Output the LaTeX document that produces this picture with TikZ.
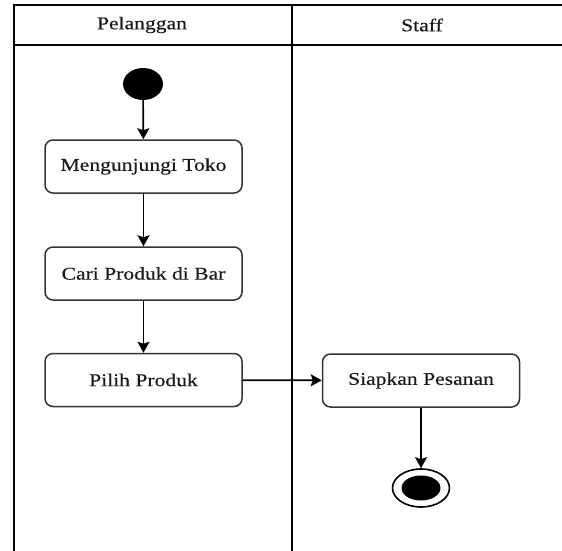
\documentclass[tikz,border=0pt]{standalone}
\usepackage{fontspec}
\setmainfont[FakeStretch=1.2,FakeBold=0.3]{Liberation Serif}
\usetikzlibrary{arrows.meta,shapes.geometric}
\begin{document}
\begin{tikzpicture}[x=1pt,y=-1pt,
  lane/.style={line width=2pt, draw=black},
  lanetitle/.style={font=\fontsize{18}{22}\selectfont, text=black!90, inner sep=0pt},
  action/.style={draw=black!80, line width=1.5pt, rounded corners=8pt,
    minimum width=197pt, minimum height=53pt, inner sep=0pt,
    font=\fontsize{18}{22}\selectfont, text=black!90},
  flow/.style={line width=1.7pt, draw=black, -{Stealth[length=11pt,width=12pt,inset=2pt]}},
  initial/.style={ellipse, fill=black, minimum width=40pt, minimum height=32pt, inner sep=0pt},
  finalring/.style={ellipse, draw=black, line width=1.6pt, minimum width=57pt, minimum height=38pt, inner sep=0pt},
  finaldot/.style={ellipse, fill=black, minimum width=39pt, minimum height=25pt, inner sep=0pt}
]
\useasboundingbox (0,0) rectangle (562,551);

% swimlane frame
\draw[lane] (564,5) -- (13.5,5) -- (13.5,553);
\draw[lane] (13.5,45) -- (564,45);
\draw[lane] (291.5,5) -- (291.5,553);

% lane titles
\node[lanetitle] (laneA) at (142,25) {Pelanggan};
\node[lanetitle] (laneB) at (422,25) {Staff};

% activity nodes
\node[initial] (start) at (143,84) {};
\node[action] (visit) at (143.5,166.5) {Mengunjungi Toko};
\node[action] (search) at (143.5,273.5) {Cari Produk di Bar};
\node[action] (pick) at (143.5,380) {Pilih Produk};
\node[action] (prep) at (421,380.5) {Siapkan Pesanan};
\node[finalring] (final) at (421,488) {};
\node[finaldot] (finaldot) at (421,488) {};

% control flow
\draw[flow] (start) -- (visit);
\draw[flow] (visit) -- (search);
\draw[flow] (search) -- (pick);
\draw[flow] (pick) -- (prep);
\draw[flow] (prep) -- (final);
\end{tikzpicture}
\end{document}
